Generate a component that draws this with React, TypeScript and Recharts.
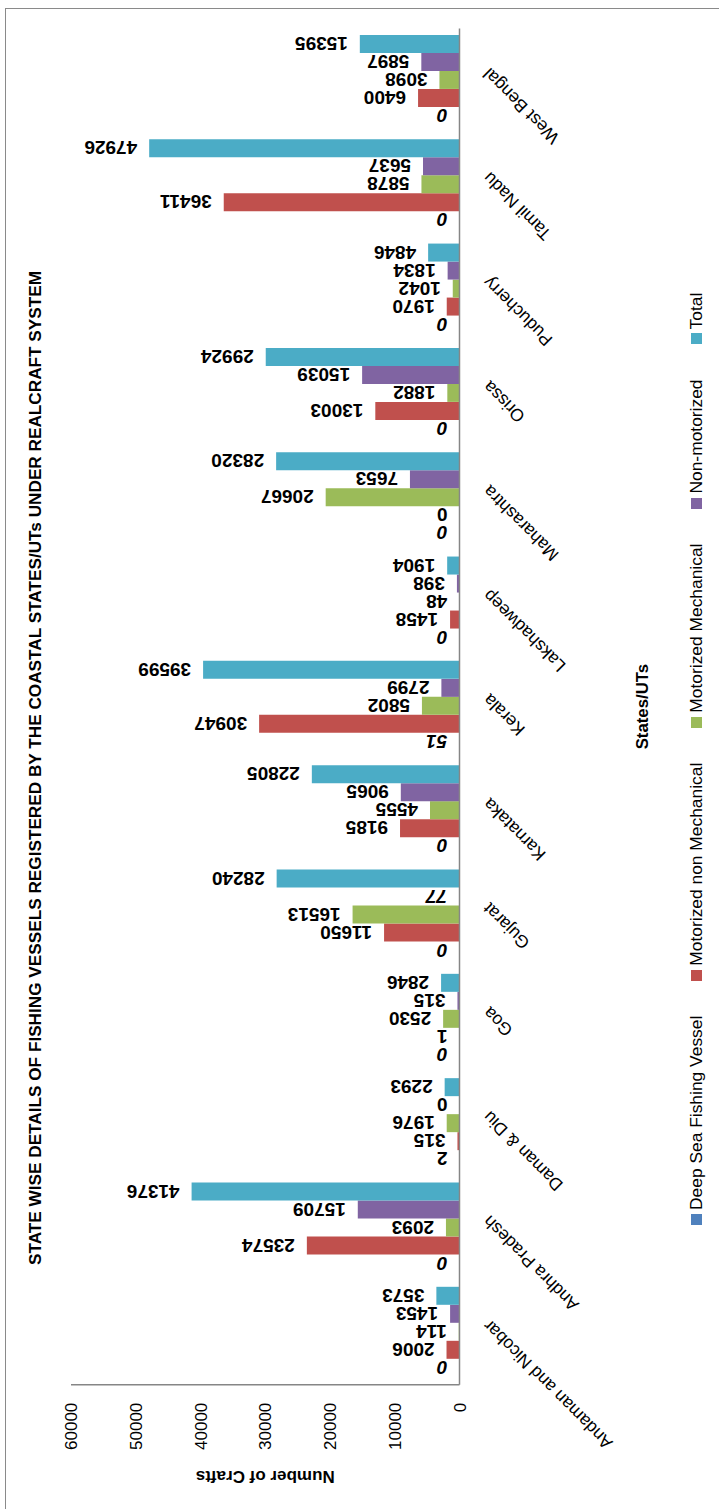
import { BarChart, Bar, XAxis, YAxis, Legend, LabelList, Label } from "recharts"

const states = [
  "Andaman and Nicobar",
  "Andhra Pradesh",
  "Daman & Diu",
  "Goa",
  "Gujarat",
  "Karnataka",
  "Kerala",
  "Lakshadweep",
  "Maharashtra",
  "Orissa",
  "Puducherry",
  "Tamil Nadu",
  "West Bengal",
]

const deepSea = [0, 0, 2, 0, 0, 0, 51, 0, 0, 0, 0, 0, 0]
const motorNonMech = [2006, 23574, 315, 1, 11650, 9185, 30947, 1458, 0, 13003, 1970, 36411, 6400]
const motorMech = [114, 2093, 1976, 2530, 16513, 4555, 5802, 48, 20667, 1882, 1042, 5878, 3098]
const nonMotorized = [1453, 15709, 0, 315, 77, 9065, 2799, 398, 7653, 15039, 1834, 5637, 5897]
const totals = [3573, 41376, 2293, 2846, 28240, 22805, 39599, 1904, 28320, 29924, 4846, 47926, 15395]

const valueTicks = [0, 10000, 20000, 30000, 40000, 50000, 60000]

const series = [
  { key: "deepSea", name: "Deep Sea Fishing Vessel", color: "#4F81BD" },
  { key: "motorNonMech", name: "Motorized non Mechanical", color: "#C0504D" },
  { key: "motorMech", name: "Motorized Mechanical", color: "#9BBB59" },
  { key: "nonMotorized", name: "Non-motorized", color: "#8064A2" },
  { key: "total", name: "Total", color: "#4BACC6" },
]

const data = states.map((state, i) => ({
  state,
  deepSea: deepSea[i],
  motorNonMech: motorNonMech[i],
  motorMech: motorMech[i],
  nonMotorized: nonMotorized[i],
  total: totals[i],
}))

// a few labels were left in italics in the original sheet
function isItalic(key: string, value: number) {
  if (key === "deepSea") return value !== 2
  return key === "nonMotorized" && value === 77
}

const FONT = "'Liberation Sans', Arial, sans-serif"
const AXIS_GREY = "#868686"

// the chart is laid out as a normal column chart, then the whole sheet is turned a quarter left
const W = 1509
const H = 719

function StateTick(props: any) {
  const { x, y, payload } = props
  const ax = x + 5
  const ay = y + 14
  return (
    <text
      x={ax}
      y={ay}
      transform={`rotate(-45 ${ax} ${ay})`}
      textAnchor="end"
      dy="0.71em"
      fontFamily={FONT}
      fontSize={17.5}
      fill="#000"
    >
      {payload.value}
    </text>
  )
}

function makeValueLabel(key: string) {
  return (props: any) => {
    const { x, y, width, height, value } = props
    const cx = x + width / 2
    const top = Math.min(y, y + height) - 12
    return (
      <text
        x={cx}
        y={top}
        transform={`rotate(-90 ${cx} ${top})`}
        dy="0.36em"
        textAnchor="start"
        fontFamily={FONT}
        fontSize={19}
        fontWeight={700}
        fontStyle={isItalic(key, Number(value)) ? "italic" : "normal"}
        fill="#000"
      >
        {value}
      </text>
    )
  }
}

function LegendRow() {
  return (
    <div style={{ display: "flex", fontFamily: FONT, fontSize: 17.4, color: "#000", whiteSpace: "nowrap", lineHeight: "20px" }}>
      {series.map((s) => (
        <div key={s.key} style={{ display: "flex", alignItems: "center", marginRight: 35 }}>
          <span style={{ width: 11, height: 11, background: s.color, marginRight: 4, display: "inline-block" }} />
          <span>{s.name}</span>
        </div>
      ))}
    </div>
  )
}

export default function App() {
  return (
    <>
      <style>{`html,body{margin:0;overflow:hidden}`}</style>
      <div
        style={{
          position: "absolute",
          left: 0,
          top: 0,
          width: W,
          height: H,
          overflow: "hidden",
          background: "#fff",
          transformOrigin: "0 0",
          transform: `translateY(${W}px) rotate(-90deg)`,
        }}
      >
        <div
          style={{
            position: "absolute",
            left: -10,
            top: 5,
            width: 1511,
            height: 800,
            border: "1.5px solid #8a8a8a",
            boxSizing: "border-box",
          }}
        />
        <div
          style={{
            position: "absolute",
            left: 0,
            top: 24,
            width: 1482,
            textAlign: "center",
            fontFamily: FONT,
            fontWeight: 700,
            fontSize: 17.2,
            lineHeight: "22px",
            color: "#000",
          }}
        >
          STATE WISE DETAILS OF FISHING VESSELS REGISTERED BY THE COASTAL STATES/UTs UNDER REALCRAFT SYSTEM
        </div>
        <BarChart
          width={W}
          height={H}
          data={data}
          margin={{ top: 71, right: 28.5, bottom: 109.5, left: 0 }}
          barCategoryGap={7.9}
          barGap={0}
        >
          <XAxis
            dataKey="state"
            interval={0}
            tickLine={false}
            axisLine={{ stroke: AXIS_GREY, strokeWidth: 1.5 }}
            height={150}
            tick={<StateTick />}
          >
            <Label
              value="States/UTs"
              position="bottom"
              offset={27}
              style={{ fontFamily: FONT, fontSize: 16.8, fontWeight: 700, fill: "#000" }}
            />
          </XAxis>
          <YAxis
            type="number"
            domain={[0, 60000]}
            ticks={valueTicks}
            width={124.3}
            tickLine={false}
            tickMargin={12}
            axisLine={{ stroke: AXIS_GREY, strokeWidth: 1.5 }}
            tick={{ fontFamily: FONT, fontSize: 17, fill: "#000" }}
          >
            <Label
              value="Number of Crafts"
              angle={-90}
              position="insideLeft"
              offset={32}
              style={{ fontFamily: FONT, fontSize: 17, fontWeight: 700, fill: "#000", textAnchor: "middle" }}
            />
          </YAxis>
          <Legend
            layout="horizontal"
            verticalAlign="middle"
            align="center"
            content={<LegendRow />}
            wrapperStyle={{ left: 284, top: 686, width: "auto", height: "auto" }}
          />
          {series.map((s) => (
            <Bar
              key={s.key}
              dataKey={s.key}
              name={s.name}
              fill={s.color}
              minPointSize={(v: number) => (v === 0 ? 0.01 : 0)}
              isAnimationActive={false}
            >
              <LabelList dataKey={s.key} content={makeValueLabel(s.key)} />
            </Bar>
          ))}
        </BarChart>
      </div>
    </>
  )
}
